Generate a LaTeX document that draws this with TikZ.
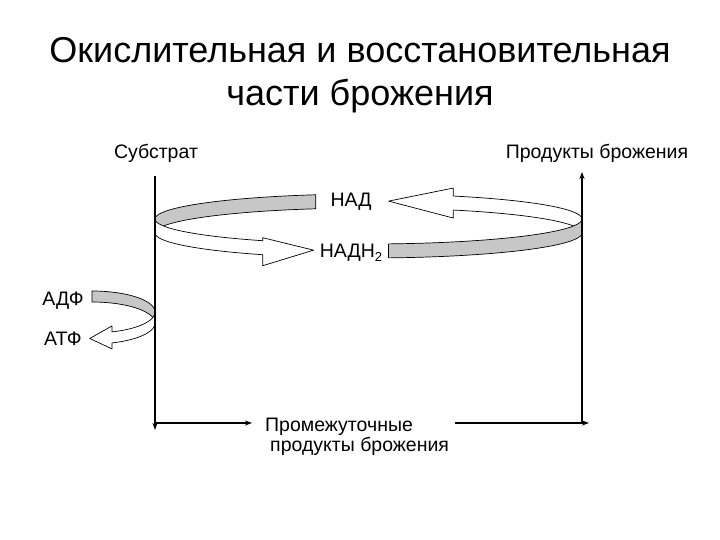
\documentclass[tikz,border=0pt]{standalone}
\usepackage{fontspec}
\setmainfont{Liberation Sans}
\usetikzlibrary{arrows.meta}
\tikzset{
  ribgray/.style={fill=black!22, draw=black, line width=0.7pt, line join=round},
  ribwhite/.style={fill=white, draw=black, line width=0.7pt, line join=round},
  flow/.style={line width=1.8pt, -{Stealth[length=7pt,width=5pt]}},
  lbl/.style={font=\fontsize{19.5}{22}\selectfont, inner sep=0pt, anchor=base},
  ttl/.style={font=\fontsize{36}{40}\selectfont, inner sep=0pt, anchor=base}
}
\begin{document}
\begin{tikzpicture}[x=1pt,y=-1pt]
\useasboundingbox (0,0) rectangle (720,540);
% title
\node[ttl] (t1) at (360,63) {Окислительная и восстановительная};
\node[ttl] (t2) at (360,106) {части брожения};
% labels
\node[lbl] (sub) at (156,159) {Субстрат};
\node[lbl] (prod) at (597,159) {Продукты брожения};
\node[lbl] (nad) at (351,207) {НАД};
\node[lbl] (nadh) at (351,257) {НАДН\raisebox{-4pt}{\fontsize{13}{13}\selectfont 2}};
\node[lbl] (adp) at (63,305) {АДФ};
\node[lbl] (atp) at (63,345) {АТФ};
\node[lbl, align=left, anchor=north west] (mid) at (265,418) {Промежуточные\\[-2pt]\hspace*{5pt}продукты брожения};
% big ring: back pieces
\filldraw[ribgray] plot[domain=104.3:180, samples=40] ({368.5+213.5*cos(\x)},{219-25*sin(\x)})
  -- plot[domain=180:104.3, samples=40] ({368.5+213.5*cos(\x)},{233-25*sin(\x)}) -- cycle;
\filldraw[ribwhite] plot[domain=0:66.6, samples=40] ({368.5+213.5*cos(\x)},{219-25*sin(\x)})
  -- ++(0,-8) -- ({368.5+213.5*cos(84.6)},{226-25*sin(84.6)})
  -- ({368.5+213.5*cos(66.6)},{241-25*sin(66.6)})
  -- plot[domain=66.6:0, samples=40] ({368.5+213.5*cos(\x)},{233-25*sin(\x)}) -- cycle;
% big ring: front pieces
\filldraw[ribwhite] plot[domain=180:240.3, samples=40] ({368.5+213.5*cos(\x)},{219-25*sin(\x)})
  -- ++(0,-3) -- ({368.5+213.5*cos(255.1)},{226-25*sin(255.1)})
  -- ({368.5+213.5*cos(240.3)},{244-25*sin(240.3)})
  -- plot[domain=240.3:180, samples=40] ({368.5+213.5*cos(\x)},{233-25*sin(\x)}) -- cycle;
\filldraw[ribgray] plot[domain=275.4:360, samples=40] ({368.5+213.5*cos(\x)},{219-25*sin(\x)})
  -- plot[domain=360:275.4, samples=40] ({368.5+213.5*cos(\x)},{233-25*sin(\x)}) -- cycle;
% small ring (ADP -> ATP)
\filldraw[ribgray] plot[domain=90:0, samples=30] ({92+63*cos(\x)},{312-21*sin(\x)})
  -- plot[domain=0:90, samples=30] ({92+63*cos(\x)},{323-21*sin(\x)}) -- cycle;
\filldraw[ribwhite] plot[domain=360:288.5, samples=30] ({92+63*cos(\x)},{312-21*sin(\x)})
  -- ++(0,-6) -- ({92+63*cos(268)},{317.5-21*sin(268)})
  -- ({92+63*cos(288.5)},{329-21*sin(288.5)})
  -- plot[domain=288.5:360, samples=30] ({92+63*cos(\x)},{323-21*sin(\x)}) -- cycle;
% frame connectors
\coordinate (lt) at (155,176);
\coordinate (lb) at (155,430);
\coordinate (lh) at (155,423);
\coordinate (le) at (252,423);
\coordinate (rs) at (455,423);
\coordinate (rh) at (582,423);
\coordinate (rt) at (582,172);
\coordinate (re) at (589,423);
\draw[flow] (lt) -- (lb);
\draw[flow] (lh) -- (le);
\draw[flow] (rs) -- (re);
\draw[flow] (rh) -- (rt);
\end{tikzpicture}
\end{document}
